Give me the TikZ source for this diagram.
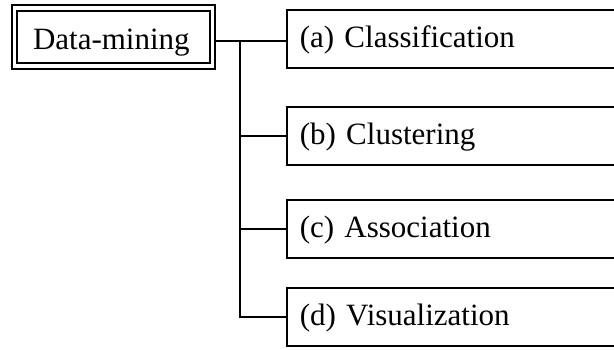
\documentclass[tikz,border=0pt]{standalone}
\usepackage{fontspec}
\setmainfont{Liberation Serif}
\begin{document}
\begin{tikzpicture}[x=1pt,y=-1pt,
  every node/.style={font=\fontsize{31}{36}\selectfont},
  rootbox/.style={draw, line width=2.2pt, text width=161pt, inner xsep=16pt, inner ysep=0pt,
    minimum height=52pt, align=left, text height=33pt, text depth=7pt},
  rootframe/.style={draw, line width=1.3pt},
  leafbox/.style={draw, line width=1.5pt, anchor=west, text width=308pt, inner xsep=13pt,
    inner ysep=0pt, minimum height=58pt, align=left, text height=25pt, text depth=7pt},
  link/.style={line width=1.5pt}]
  \useasboundingbox (0,0) rectangle (614,350);
  \clip (0,0) rectangle (614,350);
  % root with double frame
  \node[rootbox] (dm) at (113.5,37) {Data-mining};
  \draw[rootframe] (12,5) rectangle (215,69);
  \coordinate (dmout) at (215,41);
  % leaves (they run past the right edge)
  \node[leafbox] (a) at (286,39) {(a) Classification};
  \node[leafbox] (b) at (286,136) {(b) Clustering};
  \node[leafbox] (c) at (286,229) {(c) Association};
  \node[leafbox] (d) at (286,317) {(d) Visualization};
  % tree connectors
  \coordinate (trunk) at (240,41);
  \draw[link] (dmout) -- (a.west |- dmout);
  \draw[link] (trunk) |- (d.west);
  \draw[link] (trunk |- b.west) -- (b.west);
  \draw[link] (trunk |- c.west) -- (c.west);
\end{tikzpicture}
\end{document}
